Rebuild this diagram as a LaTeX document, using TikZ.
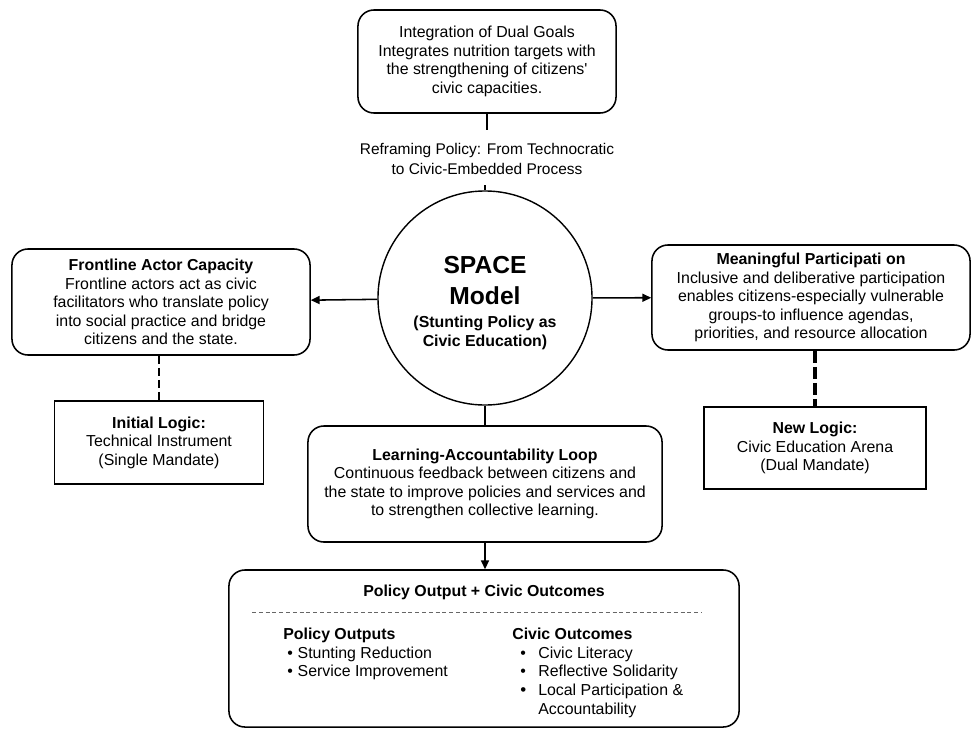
\documentclass[tikz,border=0pt]{standalone}
\usepackage{fontspec}
\setmainfont{Liberation Sans}[Ligatures=TeXOff]
\usetikzlibrary{arrows.meta, positioning}

\begin{document}
\begin{tikzpicture}[
	x=0.025cm, y=-0.025cm,
	>={Triangle[length=2.2mm, width=2mm]},
	every node/.style={font=\fontsize{11.3}{13.2}\selectfont},
	round box/.style={draw, line width=1.1pt, rounded corners=0.4cm, align=center, inner sep=0pt},
	square box/.style={draw, line width=1.1pt, align=center, inner sep=0pt},
	hub/.style={draw, circle, line width=1pt, inner sep=0pt, minimum size=5.35cm},
	link/.style={line width=1.1pt},
	soft dash/.style={line width=1.3pt, dash pattern=on 2mm off 1mm},
	hard dash/.style={line width=2.8pt, dash pattern=on 3mm off 1mm},
	separator/.style={gray!80!black, line width=0.6pt, dash pattern=on 1mm off 0.7mm},
	list/.style={anchor=north west, align=left, inner sep=0pt}
	]
	% =====================================================
	% BOUNDING BOX
	% =====================================================
	\useasboundingbox (0,0) rectangle (971,729);

	% =====================================================
	% TOP: DUAL GOALS + REFRAMING
	% =====================================================
	\node[round box, minimum width=6.45cm, minimum height=2.575cm] (Goals) at (487,61.5)
		{Integration of Dual Goals\\Integrates nutrition targets with\\the strengthening of citizens'\\civic capacities.};
	\node[align=center, font=\fontsize{11}{14.2}\selectfont] (Reframe) at (487,159)
		{Reframing Policy: From Technocratic\\to Civic-Embedded Process};
	\coordinate (ReframeTop) at (487,130);
	\coordinate (ReframeBot) at (485,185);

	% =====================================================
	% CENTRE: SPACE MODEL
	% =====================================================
	\node[hub] (Space) at (485,298) {};
	\node[align=center] (SpaceText) at (485,303)
		{\fontsize{17.5}{21}\selectfont\bfseries SPACE\\[9pt]
		 \fontsize{17.5}{21}\selectfont\bfseries Model\\[3pt]
		 \fontsize{11.3}{12}\selectfont\bfseries (Stunting Policy as\\
		 \fontsize{11.3}{12}\selectfont\bfseries Civic Education)};

	% =====================================================
	% SIDES: ACTORS AND PARTICIPATION
	% =====================================================
	\node[round box, minimum width=7.45cm, minimum height=2.65cm] (Actor) at (161,302)
		{\textbf{Frontline Actor Capacity}\\Frontline actors act as civic\\facilitators who translate policy\\into social practice and bridge\\citizens and the state.};
	\node[round box, minimum width=7.95cm, minimum height=2.625cm] (Particip) at (811,297.5)
		{\textbf{Meaningful Participati on}\\Inclusive and deliberative participation\\enables citizens-especially vulnerable\\groups-to influence agendas,\\priorities, and resource allocation};

	\node[square box, minimum width=5.225cm, minimum height=2.075cm] (Initial) at (159,442.5)
		{\textbf{Initial Logic:}\\Technical Instrument\\(Single Mandate)};
	\node[square box, minimum width=5.55cm, minimum height=2.05cm] (NewLogic) at (815,448)
		{\textbf{New Logic:}\\Civic Education Arena\\(Dual Mandate)};

	% =====================================================
	% BOTTOM: LOOP AND OUTCOMES
	% =====================================================
	\node[round box, minimum width=8.85cm, minimum height=2.9cm] (Loop) at (485,484)
		{\textbf{Learning-Accountability Loop}\\Continuous feedback between citizens and\\the state to improve policies and services and\\to strengthen collective learning.};

	\node[round box, minimum width=12.75cm, minimum height=3.925cm] (Out) at (484,648.5) {};
	\node[font=\fontsize{11.3}{13.2}\selectfont\bfseries] (OutTitle) at (484,592) {Policy Output + Civic Outcomes};
	\coordinate (SepL) at (252,612);
	\coordinate (SepR) at (702,612);
	\draw[separator] (SepL) -- (SepR);

	\node[list] (PolOut) at (283,628)
		{\textbf{Policy Outputs}\\
		 \hspace*{0.1cm}\makebox[0.26cm][l]{\textbullet}Stunting Reduction\\
		 \hspace*{0.1cm}\makebox[0.26cm][l]{\textbullet}Service Improvement};
	\node[list] (CivOut) at (512,628)
		{\textbf{Civic Outcomes}\\
		 \hspace*{0.2cm}\makebox[0.45cm][l]{\textbullet}Civic Literacy\\
		 \hspace*{0.2cm}\makebox[0.45cm][l]{\textbullet}Reflective Solidarity\\
		 \hspace*{0.2cm}\makebox[0.45cm][l]{\large\textbullet}Local Participation \&\\
		 \hspace*{0.65cm}Accountability};

	% =====================================================
	% CONNECTORS
	% =====================================================
	\draw[link] (Goals.south) -- (ReframeTop);
	\draw[link] (ReframeBot) -- (Space.north);
	\draw[link, ->] (Space) -- (Actor);
	\draw[link, ->] (Space) -- (Particip);
	\draw[soft dash] (Initial.north |- Actor.south) -- (Initial.north);
	\draw[hard dash] (NewLogic.north |- Particip.south) -- (NewLogic.north);
	\draw[link] (Space.south) -- (Loop.north);
	\draw[link, ->] (Loop.south) -- (Loop.south |- Out.north);

\end{tikzpicture}
\end{document}
